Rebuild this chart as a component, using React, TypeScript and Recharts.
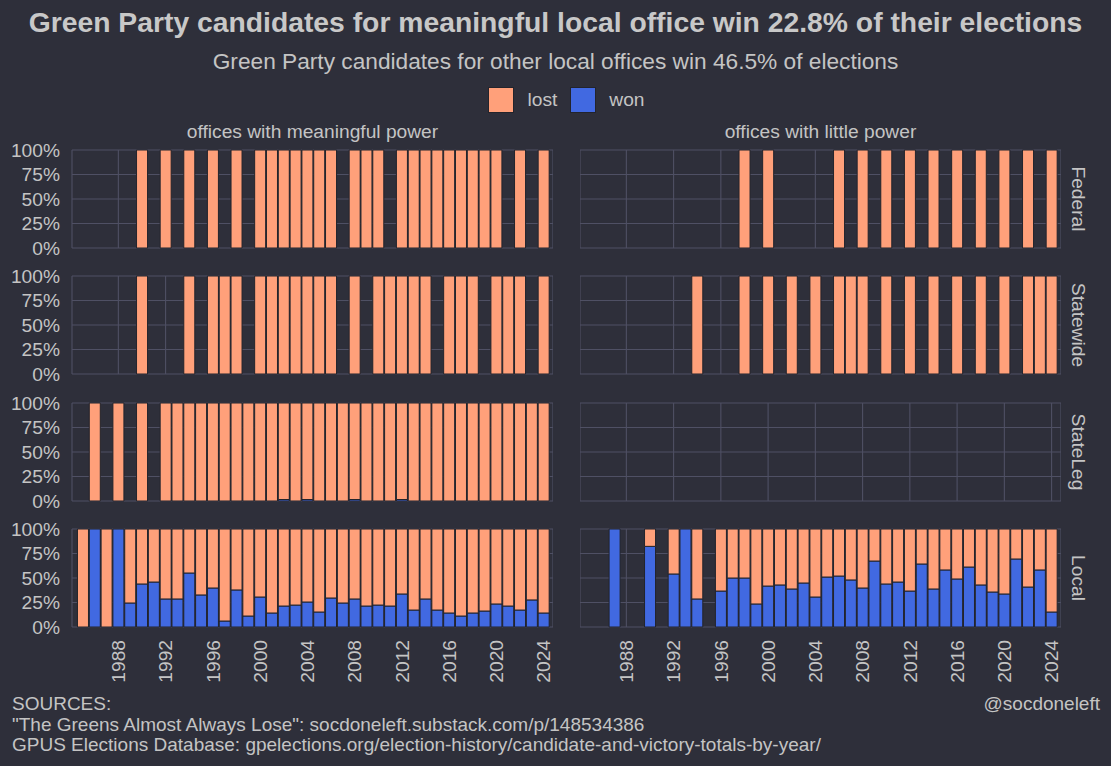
import { Bar, BarChart, CartesianGrid, XAxis, YAxis } from "recharts";

const n = null;

const YEARS = [
  1985, 1986, 1987, 1988, 1989, 1990, 1991, 1992, 1993, 1994,
  1995, 1996, 1997, 1998, 1999, 2000, 2001, 2002, 2003, 2004,
  2005, 2006, 2007, 2008, 2009, 2010, 2011, 2012, 2013, 2014,
  2015, 2016, 2017, 2018, 2019, 2020, 2021, 2022, 2023, 2024,
];
const TICK_YEARS = [1988, 1992, 1996, 2000, 2004, 2008, 2012, 2016, 2020, 2024];
const PCT_TICKS = [0, 25, 50, 75, 100];
const ROW_LABELS = ["Federal", "Statewide", "StateLeg", "Local"];
const COL_LABELS = ["offices with meaningful power", "offices with little power"];

// share of races won (%), one value per year in YEARS, null = no candidates
const federalMeaningfulWon = [
  n, n, n, n, n, 0, n, 0, n, 0,
  n, 0, n, 0, n, 0, 0, 0, 0, 0,
  0, 0, n, 0, 0, 0, n, 0, 0, 0,
  0, 0, 0, 0, 0, 0, n, 0, n, 0,
];
const federalLittleWon = [
  n, n, n, n, n, n, n, n, n, n,
  n, n, n, 0, n, 0, n, n, n, n,
  n, 0, n, 0, n, 0, n, 0, n, 0,
  n, 0, n, 0, n, 0, n, 0, n, 0,
];
const statewideMeaningfulWon = [
  n, n, n, n, n, 0, n, n, n, 0,
  n, 0, 0, 0, n, 0, 0, 0, 0, 0,
  0, 0, n, 0, n, 0, 0, 0, 0, 0,
  n, 0, 0, 0, n, 0, 0, 0, n, 0,
];
const statewideLittleWon = [
  n, n, n, n, n, n, n, n, n, 0,
  n, n, n, 0, n, 0, n, 0, n, 0,
  n, 0, 0, 0, n, 0, n, 0, n, 0,
  n, 0, n, 0, n, 0, n, 0, 0, 0,
];
const stateLegMeaningfulWon = [
  n, 0, n, 0, n, 0, n, 0, 0, 0,
  0, 0, 0, 0, 0, 0, 0, 1.5, 0, 1.5,
  0, 0, 0, 1.5, 0, 0, 0, 1.5, 0, 0,
  0, 0, 0, 0, 0, 0, 0, 0, 0, 0,
];
const stateLegLittleWon = [
  n, n, n, n, n, n, n, n, n, n,
  n, n, n, n, n, n, n, n, n, n,
  n, n, n, n, n, n, n, n, n, n,
  n, n, n, n, n, n, n, n, n, n,
];
const localMeaningfulWon = [
  0, 100, 0, 100, 24.5, 43.9, 45.9, 28.6, 28.6, 55.1,
  32.7, 39.8, 6.1, 37.8, 11.2, 30.6, 14.3, 21.4, 22.4, 25.5,
  15.3, 29.6, 24.5, 28.6, 21.4, 22.4, 21.4, 33.7, 17.3, 28.6,
  17.3, 14.3, 11.2, 14.3, 16.3, 23.5, 21.4, 17.3, 27.6, 14.3,
];
const localLittleWon = [
  n, n, 100, n, n, 82.3, n, 54.1, 100, 28.6,
  n, 36.7, 50, 50, 23.5, 41.8, 42.9, 38.8, 44.9, 30.6,
  51, 52, 48, 39.8, 67.3, 43.9, 45.9, 36.7, 64.3, 38.8,
  58.2, 49, 61.2, 42.9, 35.7, 33.7, 69.4, 40.8, 58.2, 15.3,
];

const PANELS = [
  [federalMeaningfulWon, federalLittleWon],
  [statewideMeaningfulWon, statewideLittleWon],
  [stateLegMeaningfulWon, stateLegLittleWon],
  [localMeaningfulWon, localLittleWon],
];

const BG = "#2e2f3a";
const GRID = "#4f5064";
const TEXT = "#c4c4c4";
const LOST = "#ffa07a";
const WON = "#4169e1";
const OUTLINE = "#23242c";
const FONT = "'Liberation Sans', Arial, sans-serif";
const SMALL = 19.2;

const PLOT_W = 481;
const PLOT_H = 98;
const PAD = 12;
const COL_X = [72, 580];
const ROW_Y = [150, 276.3, 402.7, 529];

function toRows(won: (number | null)[]) {
  return YEARS.map((year, i) => ({
    year,
    won: won[i],
    lost: won[i] === null ? null : 100 - (won[i] as number),
  }));
}

function YearTick(props: any) {
  const { x, y, payload } = props;
  return (
    <text
      transform={`translate(${x},${y}) rotate(-90)`}
      textAnchor="end"
      dy="0.35em"
      fill={TEXT}
      fontSize={SMALL}
    >
      {payload.value}
    </text>
  );
}

function Panel({ won, row, col }: { won: (number | null)[]; row: number; col: number }) {
  const yW = col === 0 ? 72 : 0;
  const xH = row === 3 ? 60 : 0;
  return (
    <div style={{ position: "absolute", left: COL_X[col] - yW, top: ROW_Y[row] - PAD }}>
      <BarChart
        width={PLOT_W + yW}
        height={PLOT_H + xH + PAD * 2}
        data={toRows(won)}
        margin={{ top: PAD, right: 0, bottom: PAD, left: 0 }}
        barCategoryGap="4%"
      >
        <CartesianGrid stroke={GRID} strokeWidth={1.1} />
        <XAxis
          dataKey="year"
          type="category"
          ticks={TICK_YEARS}
          interval={0}
          padding={{ left: 5, right: 3.5 }}
          hide={row !== 3}
          height={xH}
          axisLine={false}
          tickLine={false}
          tickSize={13}
          tickMargin={0}
          tick={<YearTick />}
        />
        <YAxis
          type="number"
          domain={[0, 100]}
          ticks={PCT_TICKS}
          interval={0}
          tickFormatter={(v: number) => `${v}%`}
          hide={col !== 0}
          width={yW}
          axisLine={false}
          tickLine={false}
          tickSize={6}
          tickMargin={6}
          tick={{ fill: TEXT, fontSize: SMALL }}
        />
        <Bar dataKey="won" stackId="a" fill={WON} stroke={OUTLINE} strokeWidth={1} isAnimationActive={false} />
        <Bar dataKey="lost" stackId="a" fill={LOST} stroke={OUTLINE} strokeWidth={1} isAnimationActive={false} />
      </BarChart>
    </div>
  );
}

export default function App() {
  return (
    <div
      style={{
        position: "absolute",
        left: 0,
        top: 0,
        width: 1111,
        height: 766,
        background: BG,
        color: TEXT,
        fontFamily: FONT,
        overflow: "hidden",
      }}
    >
      <div style={{ position: "absolute", left: 0, top: 6, width: 1111, textAlign: "center", fontSize: 28.3, fontWeight: "bold", lineHeight: "32px", color: "#c8c8c8" }}>
        Green Party candidates for meaningful local office win 22.8% of their elections
      </div>
      <div style={{ position: "absolute", left: 0, top: 47, width: 1111, textAlign: "center", fontSize: 22.7, lineHeight: "28px" }}>
        Green Party candidates for other local offices win 46.5% of elections
      </div>

      <div style={{ position: "absolute", left: 72, top: 87, width: 989, height: 26, display: "flex", justifyContent: "center", alignItems: "center", fontSize: SMALL }}>
        <span style={{ width: 26, height: 26, background: LOST, border: `1px solid ${OUTLINE}`, boxSizing: "border-box" }} />
        <span style={{ marginLeft: 13, marginRight: 13 }}>lost</span>
        <span style={{ width: 26, height: 26, background: WON, border: `1px solid ${OUTLINE}`, boxSizing: "border-box" }} />
        <span style={{ marginLeft: 13 }}>won</span>
      </div>

      {COL_LABELS.map((label, c) => (
        <div key={label} style={{ position: "absolute", left: COL_X[c], top: 121, width: PLOT_W, textAlign: "center", fontSize: SMALL, lineHeight: "22px" }}>
          {label}
        </div>
      ))}

      {ROW_LABELS.map((label, r) => (
        <div
          key={label}
          style={{
            position: "absolute",
            left: 1078,
            top: ROW_Y[r] + PLOT_H / 2,
            transform: "translate(-50%, -50%) rotate(90deg)",
            whiteSpace: "nowrap",
            fontSize: SMALL,
            lineHeight: "22px",
          }}
        >
          {label}
        </div>
      ))}

      {PANELS.map((pair, r) =>
        pair.map((won, c) => <Panel key={`${r}-${c}`} won={won} row={r} col={c} />),
      )}

      <div style={{ position: "absolute", left: 12, top: 694, fontSize: 19, lineHeight: "20.5px" }}>
        <div>SOURCES:</div>
        <div>"The Greens Almost Always Lose": socdoneleft.substack.com/p/148534386</div>
        <div>GPUS Elections Database: gpelections.org/election-history/candidate-and-victory-totals-by-year/</div>
      </div>
      <div style={{ position: "absolute", right: 11, top: 694, fontSize: 19, lineHeight: "20.5px" }}>@socdoneleft</div>
    </div>
  );
}
